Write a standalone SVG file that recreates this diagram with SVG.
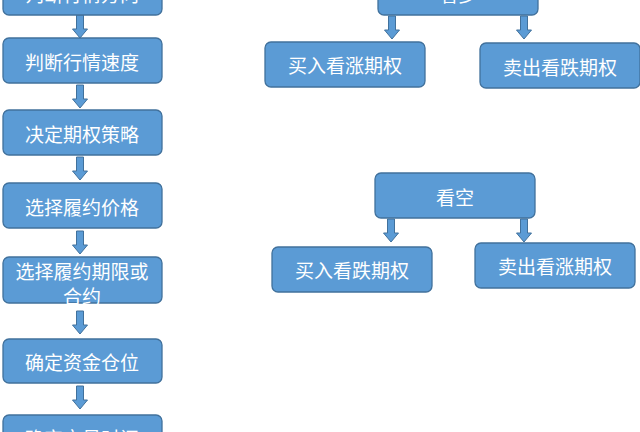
<svg xmlns="http://www.w3.org/2000/svg" width="640" height="432" viewBox="0 0 640 432">
<defs>
<style>
.box{fill:#5B9BD5;stroke:#41719C;stroke-width:1.3}
.t{fill:#ffffff;font-family:"Noto Sans CJK SC","Noto Sans",sans-serif;font-size:19px;text-anchor:middle;dominant-baseline:central}
.arr{fill:#5B9BD5;stroke:#41719C;stroke-width:1}
</style>
<path id="dn" class="arr" d="M-3.5,0 H3.5 V14 H7.5 L0,23 L-7.5,14 H-3.5 Z"/>
</defs>
<rect width="640" height="432" fill="#ffffff"/>
<g id="connectors">
<use href="#dn" x="80" y="15"/>
<use href="#dn" x="80" y="85"/>
<use href="#dn" x="80" y="157"/>
<use href="#dn" x="80" y="231"/>
<use href="#dn" x="80" y="311"/>
<use href="#dn" x="80" y="386"/>
<use href="#dn" x="392" y="16"/>
<use href="#dn" x="524" y="16"/>
<use href="#dn" x="391" y="219"/>
<use href="#dn" x="524" y="219"/>
</g>
<g id="n1"><rect class="box" x="3" y="-30" width="159" height="45" rx="6"/><text class="t" x="82" y="-7">判断行情方向</text></g>
<g id="n2"><rect class="box" x="3" y="38" width="159" height="45" rx="6"/><text class="t" x="82" y="61">判断行情速度</text></g>
<g id="n3"><rect class="box" x="3" y="110" width="159" height="45" rx="6"/><text class="t" x="82" y="133">决定期权策略</text></g>
<g id="n4"><rect class="box" x="3" y="183" width="159" height="45" rx="6"/><text class="t" x="82" y="206">选择履约价格</text></g>
<g id="n5"><rect class="box" x="3" y="257" width="159" height="46" rx="6"/><text class="t" x="82" y="270">选择履约期限或</text><text class="t" x="82" y="295">合约</text></g>
<g id="n6"><rect class="box" x="3" y="339" width="159" height="44" rx="6"/><text class="t" x="82" y="361">确定资金仓位</text></g>
<g id="n7"><rect class="box" x="3" y="415" width="159" height="45" rx="6"/><text class="t" x="82" y="437">确定交易时间</text></g>
<g id="bull"><rect class="box" x="378" y="-30" width="160" height="45" rx="6"/><text class="t" x="458" y="-7">看多</text></g>
<g id="buyCall"><rect class="box" x="265" y="42" width="160" height="45" rx="6"/><text class="t" x="345" y="64">买入看涨期权</text></g>
<g id="sellPut"><rect class="box" x="480" y="43" width="160" height="45" rx="6"/><text class="t" x="560" y="66">卖出看跌期权</text></g>
<g id="bear"><rect class="box" x="375" y="173" width="160" height="45" rx="6"/><text class="t" x="455" y="196">看空</text></g>
<g id="buyPut"><rect class="box" x="272" y="247" width="160" height="45" rx="6"/><text class="t" x="352" y="269">买入看跌期权</text></g>
<g id="sellCall"><rect class="box" x="475" y="243" width="160" height="45" rx="6"/><text class="t" x="555" y="265">卖出看涨期权</text></g>
</svg>
